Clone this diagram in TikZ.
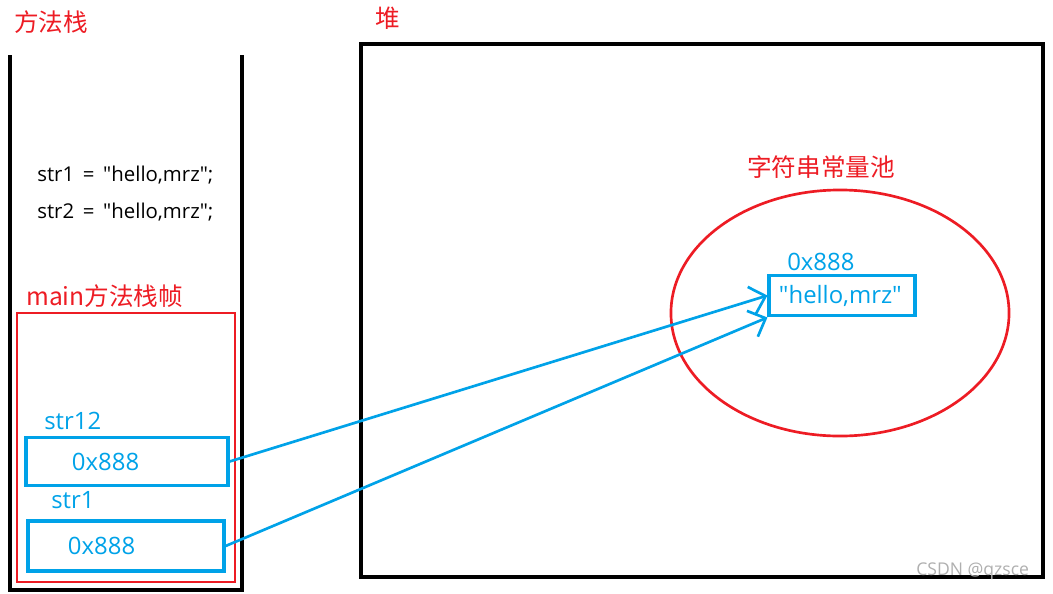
\documentclass[tikz,border=0pt]{standalone}
\usepackage{fontspec}
\setmainfont{Open Sans}[Ligatures=TeXOff]
\newfontfamily\cjk{Noto Sans CJK SC}
\usetikzlibrary{positioning,arrows.meta,shapes.geometric}
\definecolor{paintred}{RGB}{237,28,36}
\definecolor{paintblue}{RGB}{0,162,232}
\definecolor{markgray}{RGB}{175,175,175}
\tikzset{
  wall/.style={draw=black,line width=2.2pt},
  redlabel/.style={text=paintred,font=\cjk\fontsize{17.5}{19}\selectfont,inner sep=0pt},
  bluelabel/.style={text=paintblue,font=\fontsize{17}{19}\selectfont,inner sep=0pt},
  codeline/.style={text=black,font=\fontsize{14.5}{16}\selectfont,inner sep=0pt,anchor=west},
  refbox/.style={rectangle,draw=paintblue,line width=2.2pt,text=paintblue,align=left,font=\fontsize{17}{19}\selectfont},
  pointer/.style={-{Straight Barb[length=3.6mm,width=7mm]},draw=paintblue,line width=1.9pt}
}
\begin{document}
\begin{tikzpicture}[x=0.025cm,y=-0.025cm]
  \useasboundingbox (0,0) rectangle (1053,593);
  % stack and heap outlines
  \draw[wall] (10,55) -- (10,590) -- (242,590) -- (242,55);
  \draw[wall] (361,44) rectangle (1043,577);
  \draw[draw=paintred,line width=1.9pt] (17,313) rectangle (235,582);
  \node[draw=paintred,line width=1.9pt,ellipse,minimum width=8.45cm,minimum height=6.15cm] (pool) at (840,313) {};
  % labels
  \node[redlabel,anchor=west] (stacktitle) at (14,22) {方法栈};
  \node[redlabel,anchor=west] (heaptitle) at (375,18) {堆};
  \node[redlabel] (pooltitle) at (821,167) {字符串常量池};
  \node[redlabel,anchor=west] (frametitle) at (26,296) {main方法栈帧};
  \node[codeline] (code1) at (37,175) {str1 \,=\, "hello,mrz";};
  \node[codeline] (code2) at (37,212) {str2 \,=\, "hello,mrz";};
  % references
  \node[bluelabel,anchor=west] (name1) at (44,421) {str12};
  \node[refbox,inner xsep=1.15cm,text width=2.75cm,minimum height=1.22cm] (str12box) at (127,461.5) {0x888};
  \node[bluelabel,anchor=west] (name2) at (51,500) {str1};
  \node[refbox,inner xsep=1.0cm,text width=2.9cm,minimum height=1.25cm] (str1box) at (126,546) {0x888};
  \node[bluelabel,anchor=west] (addr) at (787,262) {0x888};
  \node[refbox,inner xsep=0.25cm,text width=3.15cm,minimum height=1.02cm] (poolval) at (842,295.5) {"hello,mrz"};
  \draw[pointer] (str12box.east) -- (poolval.west);
  \draw[pointer] (str1box.east) -- (poolval.south west);
  \node[text=markgray,font=\fontsize{12.5}{14}\selectfont,anchor=west,inner sep=0pt] (mark) at (916,571) {CSDN @qzsce};
\end{tikzpicture}
\end{document}
